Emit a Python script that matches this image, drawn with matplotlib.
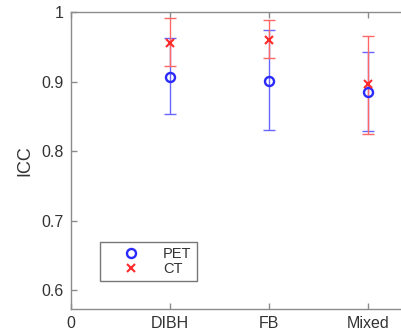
import numpy as np
import matplotlib
matplotlib.use("Agg")
import matplotlib.pyplot as plt

plt.rcParams['font.family'] = ['Liberation Sans', 'DejaVu Sans']

# data
groups = ['DIBH', 'FB', 'Mixed']
pet_icc = [0.907, 0.901, 0.885]
pet_lo = [0.853, 0.830, 0.829]
pet_hi = [0.963, 0.974, 0.943]
ct_icc = [0.956, 0.960, 0.897]
ct_lo = [0.923, 0.934, 0.824]
ct_hi = [0.991, 0.989, 0.966]

x = np.arange(1, len(groups) + 1)
txt = '#333333'
spine = '#8c8c8c'

fig = plt.figure(figsize=(4.02, 3.30), dpi=100)
ax = fig.add_axes([71/402, 1-309/330, 396/402, 297/330])

pet = np.array(pet_icc)
ct = np.array(ct_icc)
ax.errorbar(x, pet, yerr=[pet - np.array(pet_lo), np.array(pet_hi) - pet],
            fmt='none', ecolor=(0.4, 0.4, 1.0), elinewidth=1, capsize=4, capthick=1)
ax.errorbar(x, ct, yerr=[ct - np.array(ct_lo), np.array(ct_hi) - ct],
            fmt='none', ecolor=(1.0, 0.4, 0.4), elinewidth=1, capsize=4, capthick=1)
ax.plot(x, pet, 'o', mfc='none', mec='#2a2aff', mew=1.7, ms=6.5, label='PET', ls='none')
ax.plot(x, ct, 'x', color='#ff2a2a', mew=1.5, ms=6, label='CT', ls='none')

ax.set_xlim(0, 4)
ax.set_ylim(0.573, 1.0)
ax.set_xticks([0, 1, 2, 3, 4])
ax.set_xticklabels(['0'] + groups + [''])
ax.set_yticks([0.6, 0.7, 0.8, 0.9, 1.0])
ax.set_yticklabels(['0.6', '0.7', '0.8', '0.9', '1'])
ax.tick_params(direction='in', length=4, width=1, color=spine, labelcolor=txt,
               labelsize=11.5, top=True, right=True, pad=5)
for s in ax.spines.values():
    s.set_color(spine)
    s.set_linewidth(1)
ax.set_ylabel('ICC', color=txt, fontsize=13, labelpad=6)

leg = ax.legend(loc='lower left', bbox_to_anchor=(0.072, 0.095), fontsize=10.5,
                frameon=True, fancybox=False, edgecolor='#555555',
                handlelength=3.6, handletextpad=0.4, borderpad=0.35,
                labelspacing=0.05, borderaxespad=0)
leg.get_frame().set_linewidth(1)
for t in leg.get_texts():
    t.set_color(txt)

fig.savefig('out.png', dpi=100)
